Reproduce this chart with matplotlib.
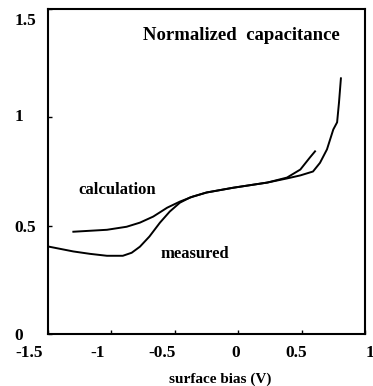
import matplotlib
matplotlib.use("Agg")
import matplotlib.pyplot as plt
from matplotlib.transforms import ScaledTranslation

# Curves
meas_x = [-1.5, -1.30, -1.17, -1.035, -0.91, -0.84, -0.775, -0.70, -0.617, -0.54,
          -0.46, -0.38, -0.25, -0.04, 0.23, 0.385, 0.49, 0.59, 0.645, 0.70, 0.75,
          0.78, 0.795, 0.81]
meas_y = [0.404, 0.381, 0.370, 0.361, 0.361, 0.375, 0.403, 0.45, 0.514, 0.565,
          0.606, 0.63, 0.653, 0.675, 0.699, 0.718, 0.732, 0.75, 0.79, 0.852, 0.944,
          0.977, 1.069, 1.18]

calc_x = [-1.30, -1.035, -0.88, -0.775, -0.67, -0.56, -0.46, -0.36, -0.25, -0.04,
          0.23, 0.385, 0.49, 0.566, 0.606]
calc_y = [0.472, 0.481, 0.495, 0.514, 0.542, 0.583, 0.611, 0.634, 0.653, 0.675,
          0.699, 0.722, 0.759, 0.815, 0.843]

xticks = [-1.5, -1, -0.5, 0, 0.5, 1]
xtick_labels = ["-1.5", "-1", "-0.5", "0", "0.5", "1"]
yticks = [0, 0.5, 1, 1.5]
ytick_labels = ["0", "0.5", "1", "1.5"]

plt.rcParams["font.family"] = ["Liberation Serif", "DejaVu Serif"]
plt.rcParams["font.weight"] = "bold"

fig = plt.figure(figsize=(3.73, 3.86), dpi=100)
ax = fig.add_axes([48 / 373, 52 / 386, 317 / 373, 325 / 386])

ax.plot(meas_x, meas_y, color="black", lw=1.4, solid_joinstyle="round")
ax.plot(calc_x, calc_y, color="black", lw=1.4, solid_joinstyle="round")

ax.set_xlim(-1.5, 1)
ax.set_ylim(0, 1.5)
ax.set_xticks(xticks)
ax.set_xticklabels(xtick_labels, fontsize=12.5, fontweight="bold")
ax.set_yticks(yticks)
ax.set_yticklabels(ytick_labels, fontsize=12.5, fontweight="bold")
ax.tick_params(direction="in", length=3, width=1)
ax.tick_params(axis="y", pad=24)
ax.tick_params(axis="x", pad=8)
for sp in ax.spines.values():
    sp.set_linewidth(1.5)

# the scanned original has its tick labels slightly off the tick positions
x_shift = [-19, -14, -13, -3, -5, 5]
for lab, dx in zip(ax.get_xticklabels(), x_shift):
    lab.set_transform(lab.get_transform() + ScaledTranslation(dx / 100, 0, fig.dpi_scale_trans))
y_shift = [0, 0, 2, -10]
for lab, dy in zip(ax.get_yticklabels(), y_shift):
    lab.set_horizontalalignment("left")
    lab.set_transform(lab.get_transform() + ScaledTranslation(0, dy / 100, fig.dpi_scale_trans))

ax.text(0.61, 0.92, "Normalized  capacitance", transform=ax.transAxes,
        ha="center", va="center", fontsize=13.5, fontweight="bold")
ax.text(-1.26, 0.665, "calculation", ha="left", va="center", fontsize=12,
        fontweight="bold")
ax.text(-0.61, 0.37, "measured", ha="left", va="center", fontsize=12,
        fontweight="bold")

fig.text(220 / 373, 1 - 379 / 386, "surface bias (V)", ha="center", va="center",
         fontsize=11, fontweight="bold")

fig.savefig("out.png", dpi=100)
